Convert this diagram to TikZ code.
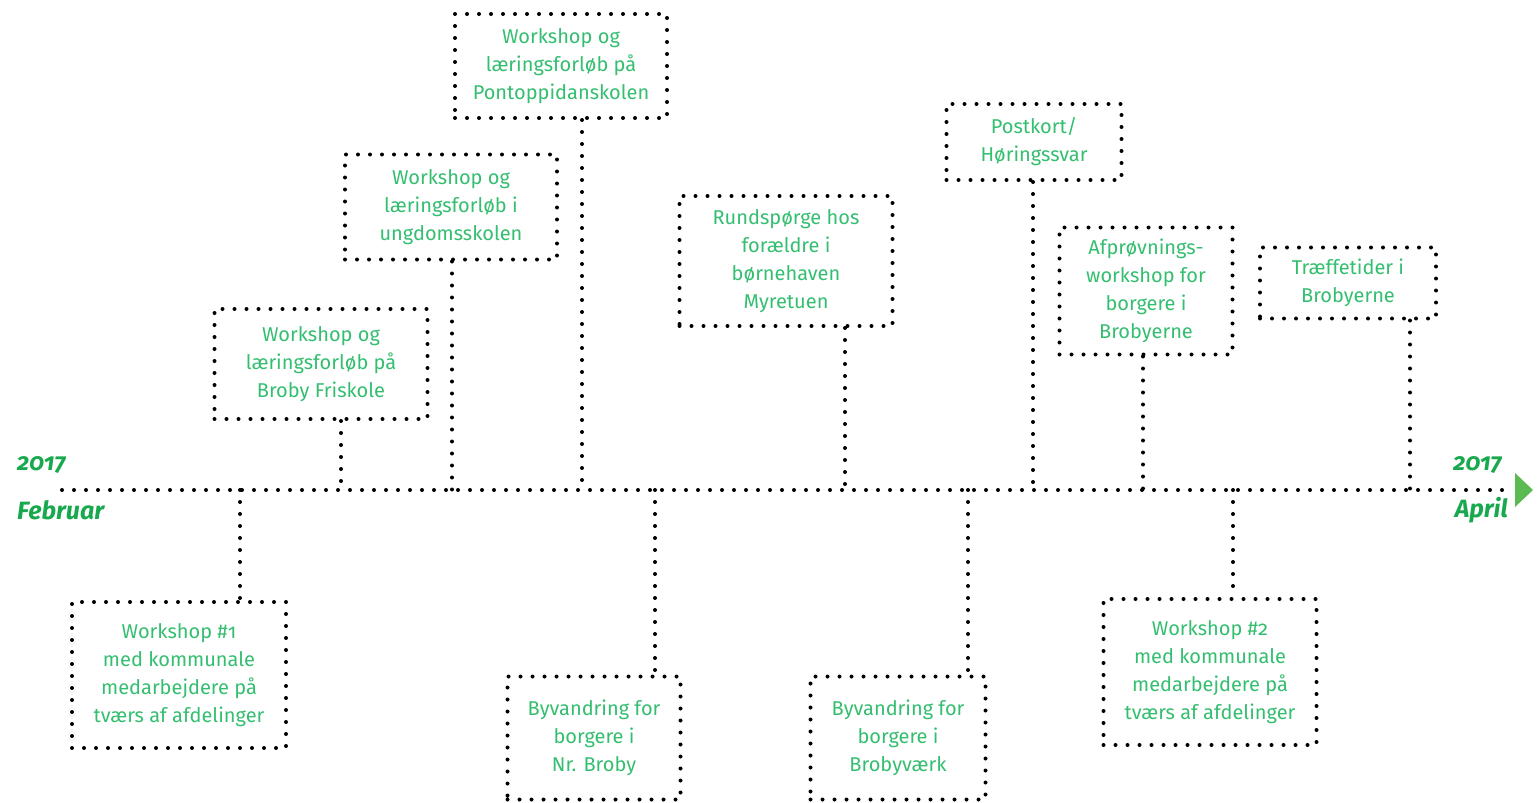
\documentclass[tikz,border=0pt]{standalone}
\usepackage{fontspec}
\setmainfont{Fira Sans}[Numbers=OldStyle]
\definecolor{textgreen}{RGB}{52, 190, 112}
\definecolor{labelgreen}{RGB}{24, 168, 78}
\definecolor{arrowgreen}{RGB}{92, 186, 82}
\usetikzlibrary{positioning, calc}

\begin{document}
\begin{tikzpicture}[x=1pt, y=-1pt,
  dots/.style={line width=4pt, dash pattern=on 0pt off 12pt, line cap=round},
  event/.style={draw, dots, inner sep=0pt, align=center, text=textgreen,
                font=\fontsize{20}{28}\selectfont},
  year/.style={font=\fontsize{24}{28}\selectfont\bfseries\itshape, text=labelgreen, inner sep=0pt},
]
\useasboundingbox (0,0) rectangle (1537,803);

% Timeline
\coordinate (start) at (62,490);
\coordinate (stop) at (1505,490);
\draw[dots] (start) -- (stop);
\coordinate (tipa) at (1515,473);
\coordinate (tipb) at (1533,490);
\coordinate (tipc) at (1515,507);
\fill[arrowgreen] (tipa) -- (tipb) -- (tipc) -- cycle;

% Start and end labels
\node[year, anchor=west] (y1) at (17,465) {2017};
\node[year, anchor=west, font=\fontsize{25}{28}\selectfont\bfseries\itshape] (feb) at (17,510) {Februar};
\node[year, anchor=east] (y2) at (1502,465) {2017};
\node[year, anchor=east, font=\fontsize{25}{28}\selectfont\bfseries\itshape] (apr) at (1508,510) {April};

% Events above the line
\node[event, minimum width=212, minimum height=104] (pont) at (561,66)
  {Workshop og\\læringsforløb på\\Pontoppidanskolen};
\node[event, minimum width=212, minimum height=105] (ung) at (451,207)
  {Workshop og\\læringsforløb i\\ungdomsskolen};
\node[event, minimum width=213, minimum height=110] (fri) at (321,364)
  {Workshop og\\læringsforløb på\\Broby Friskole};
\node[event, minimum width=213, minimum height=130] (rund) at (786,261)
  {Rundspørge hos\\forældre i\\børnehaven\\Myretuen};
\node[event, minimum width=175, minimum height=76] (post) at (1034,142)
  {Postkort/\\Høringssvar};
\node[event, minimum width=173, minimum height=127] (afp) at (1146,291)
  {Afprøvnings-\\workshop for\\borgere i\\Brobyerne};
\node[event, minimum width=176, minimum height=71] (traef) at (1348,283)
  {Træffetider i\\Brobyerne};

% Events below the line
\node[event, minimum width=214, minimum height=146] (ws1) at (179,675)
  {Workshop \#1\\med kommunale\\medarbejdere på\\tværs af afdelinger};
\node[event, minimum width=173, minimum height=123] (nrb) at (594,738)
  {Byvandring for\\borgere i\\Nr. Broby};
\node[event, minimum width=175, minimum height=123] (bvk) at (898,738)
  {Byvandring for\\borgere i\\Brobyværk};
\node[event, minimum width=213, minimum height=146] (ws2) at (1210,672)
  {Workshop \#2\\med kommunale\\medarbejdere på\\tværs af afdelinger};

% Connectors to the timeline
\foreach \ev/\xx in {pont/582, ung/452, fri/341, rund/845, post/1033, afp/1143, traef/1410}{
  \coordinate (t-\ev) at (\xx,490);
  \draw[dots] (\ev.south -| t-\ev) -- (t-\ev);
}
\foreach \ev/\xx in {ws1/240, nrb/655, bvk/968, ws2/1233}{
  \coordinate (t-\ev) at (\xx,490);
  \draw[dots] (t-\ev) -- (\ev.north -| t-\ev);
}
\end{tikzpicture}
\end{document}
